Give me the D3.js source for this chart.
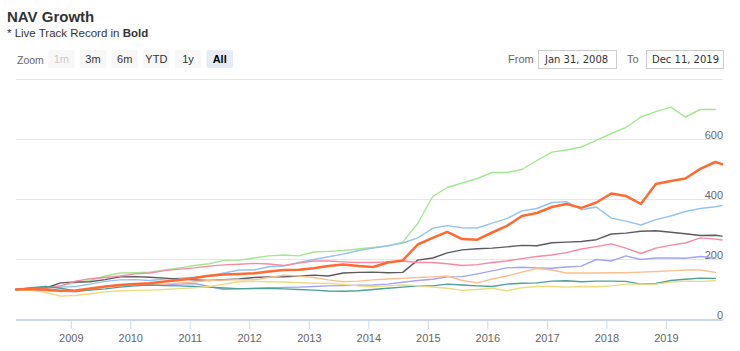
<!DOCTYPE html>
<html><head><meta charset="utf-8">
<script src="https://cdn.jsdelivr.net/npm/d3@7"></script>
<style>
html,body{margin:0;padding:0;background:#fff;}
svg{display:block;font-family:"Liberation Sans",Arial,sans-serif;}
</style></head>
<body><svg id="c" width="740" height="351"></svg>
<script>
// ---------- DATA ----------
const dates = ["2008-01-31","2008-04-30","2008-07-31","2008-10-31","2009-01-31","2009-04-30","2009-07-31","2009-10-31",
"2010-01-31","2010-04-30","2010-07-31","2010-10-31","2011-01-31","2011-04-30","2011-07-31","2011-10-31",
"2012-01-31","2012-04-30","2012-07-31","2012-10-31","2013-01-31","2013-04-30","2013-07-31","2013-10-31",
"2014-01-31","2014-04-30","2014-07-31","2014-10-31","2015-01-31","2015-04-30","2015-07-31","2015-10-31",
"2016-01-31","2016-04-30","2016-07-31","2016-10-31","2017-01-31","2017-04-30","2017-07-31","2017-10-31",
"2018-01-31","2018-04-30","2018-07-31","2018-10-31","2019-01-31","2019-04-30","2019-07-31","2019-10-31","2019-12-11"];

const greenSeries  = [100,103,106,112,122,130,145,155,156,158,165,172,180,186,197,198,205,212,215,212,225,227,230,235,240,245,258,320,410,440,455,470,490,490,500,530,558,565,575,597,620,640,675,693,708,675,700,700,null];
const liveSeries   = [100,102,100,96,97,103,110,115,118,121,127,132,138,146,150,152,154,160,165,166,171,178,183,178,175,190,197,250,272,292,268,266,290,312,345,355,375,385,372,390,420,412,385,452,462,470,502,525,518];
const blueSeries   = [100,103,105,108,110,118,127,132,133,130,135,138,141,146,155,165,165,176,178,190,200,209,218,230,238,246,255,272,304,313,306,305,321,336,362,370,390,393,366,375,338,328,315,333,345,360,370,376,380];
const graySeries   = [100,103,105,122,125,126,133,142,143,141,138,134,132,130,133,135,140,142,142,145,148,145,155,157,158,156,157,198,205,222,232,236,238,242,247,246,256,258,260,266,285,288,294,296,291,286,280,281,278];
const pinkSeries   = [100,102,104,112,128,136,140,145,152,155,163,168,172,178,182,184,187,185,180,188,195,195,192,190,190,192,195,190,190,186,180,183,190,195,203,210,215,223,235,243,252,238,220,238,248,255,272,268,265];
const purpleSeries = [100,98,96,94,92,100,110,116,118,118,116,118,120,110,100,102,104,105,107,108,110,112,113,114,115,118,124,130,134,142,143,152,162,172,174,172,171,175,178,200,195,212,200,205,205,204,210,205,null];
const peachSeries  = [100,102,100,93,95,100,108,112,114,115,118,122,126,130,132,133,132,140,148,145,140,132,126,128,132,135,137,140,142,145,130,122,135,145,158,170,165,155,155,155,156,156,158,160,162,165,165,157,null];
const tealSeries   = [100,106,110,104,95,98,102,108,112,115,113,112,110,108,105,103,103,104,102,100,98,95,94,96,100,104,108,112,112,118,115,112,110,118,121,122,128,129,126,128,128,127,118,120,130,134,138,137,null];
const yellowSeries = [100,97,90,78,80,86,92,96,97,98,100,103,106,110,118,126,127,126,125,123,121,120,117,112,109,112,115,113,108,104,97,100,104,96,106,110,110,108,110,109,112,118,118,118,125,128,127,129,null];

const yTicks = [0,200,400,600,800];
const yearTicks = ["2009","2010","2011","2012","2013","2014","2015","2016","2017","2018","2019"];
const rangeButtons = ["1m","3m","6m","YTD","1y","All"];
const fromDate = "Jan 31, 2008", toDate = "Dec 11, 2019";

const series = [
  {values: greenSeries,  color:"#a3e891", w:1.4},
  {values: blueSeries,   color:"#95c3f2", w:1.4},
  {values: graySeries,   color:"#5b5b60", w:1.4},
  {values: pinkSeries,   color:"#f58aa3", w:1.4},
  {values: purpleSeries, color:"#a3a5f0", w:1.4},
  {values: peachSeries,  color:"#f9c08f", w:1.4},
  {values: tealSeries,   color:"#4f9f9e", w:1.4},
  {values: yellowSeries, color:"#ecdc7e", w:1.4},
  {values: liveSeries,   color:"#ff6a33", w:2.5}
];

// ---------- CHART ----------
const svg = d3.select("#c");
const parse = d3.timeParse("%Y-%m-%d");
const dts = dates.map(parse);

const x = d3.scaleTime().domain([dts[0], dts[dts.length-1]]).range([16, 722]);
const y = d3.scaleLinear().domain([0, 800]).range([319.5, 79.5]);

// title
svg.append("text").attr("x",7).attr("y",22).attr("fill","#333").attr("font-size","15px").attr("font-weight","bold").text("NAV Growth");
const sub = svg.append("text").attr("x",7).attr("y",37).attr("fill","#333").attr("font-size","11.5px");
sub.append("tspan").text("* Live Track Record in ");
sub.append("tspan").attr("font-weight","bold").text("Bold");

// range selector
svg.append("text").attr("x",17).attr("y",63.5).attr("fill","#666").attr("font-size","10.5px").text("Zoom");
const bx = d3.scaleBand().domain(rangeButtons).range([48, 233]).paddingInner(0.16).paddingOuter(0);
const bg = svg.selectAll("g.btn").data(rangeButtons).join("g").attr("class","btn")
  .attr("transform", d => `translate(${bx(d)},50)`);
bg.append("rect").attr("width", bx.bandwidth()).attr("height",18).attr("rx",2)
  .attr("fill", d => d==="All" ? "#e6ebf5" : "#f7f7f7");
bg.append("text").attr("x", bx.bandwidth()/2).attr("y",13).attr("text-anchor","middle").attr("font-size","11px")
  .attr("font-weight", d => d==="All" ? "bold" : "normal")
  .attr("fill", d => d==="1m" ? "#cccccc" : (d==="All" ? "#000" : "#333")).text(d => d);

svg.append("text").attr("x",508).attr("y",63).attr("fill","#666").attr("font-size","11px").text("From");
svg.append("rect").attr("x",538.5).attr("y",50.5).attr("width",78).attr("height",18).attr("fill","#fff").attr("stroke","#cccccc");
svg.append("text").attr("x",545).attr("y",63).attr("fill","#333").attr("font-size","10px").attr("font-family","'DejaVu Sans',Verdana,sans-serif").text(fromDate);
svg.append("text").attr("x",627).attr("y",63).attr("fill","#666").attr("font-size","11px").text("To");
svg.append("rect").attr("x",646.5).attr("y",50.5).attr("width",77).attr("height",18).attr("fill","#fff").attr("stroke","#cccccc");
svg.append("text").attr("x",652).attr("y",63).attr("fill","#333").attr("font-size","10px").attr("font-family","'DejaVu Sans',Verdana,sans-serif").text(toDate);

// grid
svg.append("g").selectAll("line").data(yTicks.filter(v => v>0)).join("line")
  .attr("x1",16).attr("x2",723).attr("y1", d => y(d)).attr("y2", d => y(d))
  .attr("stroke","#e6e6e6").attr("stroke-width",1);

// y labels
svg.append("g").selectAll("text").data(yTicks.filter(v => v<800)).join("text")
  .attr("x",723).attr("y", d => y(d)-1).attr("text-anchor","end").attr("fill","#666").attr("font-size","11px").text(d => d);

// x axis
const xTickDates = yearTicks.map(v => d3.timeParse("%Y")(v));
svg.append("line").attr("x1",16).attr("x2",723).attr("y1",320).attr("y2",320).attr("stroke","#ccd6eb").attr("stroke-width",2);
const xa = svg.append("g").attr("transform","translate(0,320)")
  .call(d3.axisBottom(x).tickValues(xTickDates).tickFormat(d3.timeFormat("%Y")).tickSize(9).tickPadding(5));
xa.select(".domain").remove();
xa.selectAll(".tick line").attr("stroke","#ccd6eb");
xa.selectAll(".tick text").attr("fill","#666").attr("font-size","11px").attr("font-family","'Liberation Sans',Arial,sans-serif");

// lines
const line = d3.line().defined(d => d.v !== null).x(d => x(d.d)).y(d => y(d.v));
svg.append("g").selectAll("path").data(series).join("path")
  .attr("d", s => line(s.values.map((v,i) => ({d: dts[i], v}))))
  .attr("fill","none").attr("stroke", s => s.color).attr("stroke-width", s => s.w)
  .attr("stroke-linejoin","round").attr("stroke-linecap","round");
</script>
</body></html>
